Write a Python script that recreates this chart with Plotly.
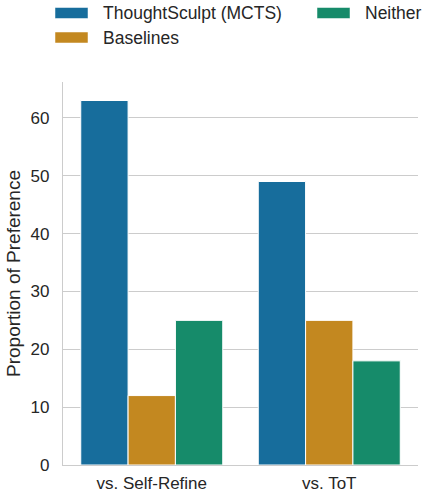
import plotly.graph_objects as go

categories = ["vs. Self-Refine", "vs. ToT"]
series_names = ["ThoughtSculpt (MCTS)", "Baselines", "Neither"]
thoughtsculpt = [63, 49]
baselines = [12, 25]
neither = [25, 18]
colors = ["#176d9c", "#c38820", "#168b6a"]
y_ticks = [0, 10, 20, 30, 40, 50, 60]

values = [thoughtsculpt, baselines, neither]
FONT = "Liberation Sans, Arial, sans-serif"
TXT = "#262626"
GRID = "#cccccc"

fig = go.Figure()
for name, vals, col in zip(series_names, values, colors):
    fig.add_trace(go.Bar(
        x=categories, y=vals, name=name,
        marker=dict(color=col, line=dict(color="white", width=1)),
        showlegend=False,
    ))

# manual legend (wide swatches like the reference)
legend_items = [
    (series_names[0], colors[0], 0.0, 0),
    (series_names[1], colors[1], 0.0, 1),
    (series_names[2], colors[2], 1.0, 0),
]
W, H = 422, 492
L, R, T, B = 63, 4, 82, 27
pw, ph = W - L - R, H - T - B
def px_x(x):
    return (x - L) / pw
def px_y(y):
    return (H - B - y) / ph
for name, col, colidx, row in legend_items:
    x0 = 55 + colidx * 262
    yc = 13 + row * 24.5
    fig.add_shape(type="rect", xref="paper", yref="paper",
                  x0=px_x(x0), x1=px_x(x0 + 33), y0=px_y(yc + 5.5), y1=px_y(yc - 5.5),
                  fillcolor=col, line=dict(color="white", width=0.5))
    fig.add_annotation(xref="paper", yref="paper", x=px_x(x0 + 46), y=px_y(yc),
                       text=name, showarrow=False, xanchor="left", yanchor="middle",
                       font=dict(family=FONT, size=17.5, color=TXT))

fig.update_layout(
    width=W, height=H, autosize=False,
    margin=dict(l=L, r=R, t=T, b=B, autoexpand=False),
    paper_bgcolor="white", plot_bgcolor="white",
    barmode="group", bargap=0.2, bargroupgap=0,
    font=dict(family=FONT, size=17, color=TXT),
)
fig.update_xaxes(
    automargin=False,
    showline=True, linecolor=GRID, linewidth=1.3, showgrid=False,
    ticks="outside", ticklen=2, tickcolor="rgba(0,0,0,0)",
    tickfont=dict(size=17, color=TXT), range=[-0.5, 1.5],
)
fig.update_yaxes(
    automargin=False,
    range=[0, 66.2], tickvals=y_ticks, showline=True, linecolor=GRID, linewidth=1.3,
    showgrid=True, gridcolor=GRID, gridwidth=1, zeroline=False,
    ticks="outside", ticklen=9, tickcolor="rgba(0,0,0,0)",
    tickfont=dict(size=17, color=TXT),
    title=dict(text="Proportion of Preference", font=dict(size=19, color=TXT), standoff=4),
)

fig.write_html(
    "out.html",
    config={"displayModeBar": False, "responsive": False},
    post_script="document.body.style.margin='0';document.body.style.overflow='hidden';",
)
